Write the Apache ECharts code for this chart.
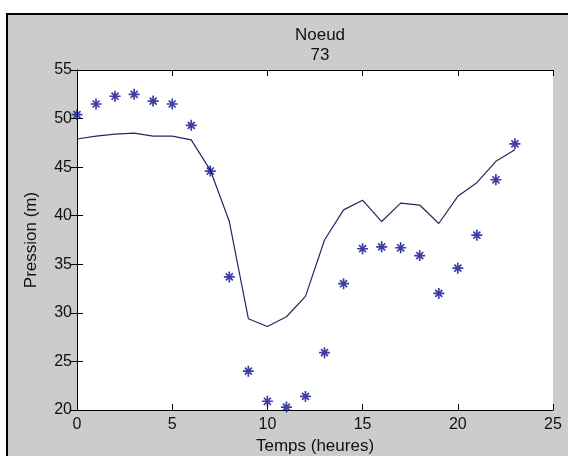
<!DOCTYPE html>
<html>
<head>
<meta charset="utf-8">
<script src="https://cdn.jsdelivr.net/npm/echarts@6/dist/echarts.min.js"></script>
<style>html,body{margin:0;padding:0;background:#fff;}#c{width:568px;height:456px;}</style>
</head>
<body>
<div id="c"></div>
<script>
var hours = [0,1,2,3,4,5,6,7,8,9,10,11,12,13,14,15,16,17,18,19,20,21,22,23];
var simulated = [47.9,48.2,48.4,48.5,48.2,48.2,47.8,44.7,39.4,29.4,28.6,29.6,31.7,37.5,40.6,41.6,39.4,41.3,41.1,39.2,42.0,43.4,45.6,46.8];
var measured = [50.4,51.5,52.3,52.5,51.8,51.5,49.3,44.6,33.7,24.0,20.9,20.3,21.4,25.9,33.0,36.6,36.8,36.7,35.9,32.0,34.6,38.0,43.7,47.4];
var titleLines = ['Noeud', '73'];
var xName = 'Temps (heures)';
var yName = 'Pression (m)';

var FONT = '"Liberation Sans", Arial, sans-serif';
var chart = echarts.init(document.getElementById('c'), null, {renderer: 'canvas'});
function pairs(ys){ return hours.map(function(h,i){ return [h, ys[i]]; }); }
var star = 'path://M5 0L5 10M0 5L10 5M1.8 1.8L8.2 8.2M8.2 1.8L1.8 8.2';
var axisCommon = {
  axisLine: {show: true, lineStyle: {color: '#000', width: 1}},
  axisTick: {show: true, inside: true, length: 6, lineStyle: {color: '#000', width: 1}},
  splitLine: {show: false}
};
chart.setOption({
  backgroundColor: '#fff',
  animation: false,
  graphic: {elements: [{
    type: 'rect', z: -100, silent: true,
    shape: {x: 7, y: 14, width: 700, height: 600},
    style: {fill: '#cccccc', stroke: '#000', lineWidth: 2}
  }]},
  title: {
    text: titleLines.join('\n'),
    left: 315, top: 20, textAlign: 'center',
    textStyle: {fontFamily: FONT, fontSize: 17, fontWeight: 'normal', color: '#111', lineHeight: 20}
  },
  grid: {left: 77, top: 70, width: 476, height: 340, show: true, backgroundColor: '#fff', borderWidth: 0, containLabel: false, outerBoundsMode: 'none'},
  xAxis: [
    Object.assign({type: 'value', min: 0, max: 25, interval: 5, position: 'bottom',
      name: xName, nameLocation: 'middle', nameGap: 27,
      nameTextStyle: {fontFamily: FONT, fontSize: 17, color: '#111'},
      axisLabel: {fontFamily: FONT, fontSize: 16, color: '#111', margin: 7}}, axisCommon),
    Object.assign({type: 'value', min: 0, max: 25, interval: 5, position: 'top',
      axisLabel: {show: false}}, axisCommon)
  ],
  yAxis: [
    Object.assign({type: 'value', min: 20, max: 55, interval: 5, position: 'left',
      name: yName, nameLocation: 'middle', nameGap: 37,
      nameTextStyle: {fontFamily: FONT, fontSize: 17, color: '#111'},
      axisLabel: {fontFamily: FONT, fontSize: 16, color: '#111', margin: 5}}, axisCommon),
    Object.assign({type: 'value', min: 20, max: 55, interval: 5, position: 'right',
      axisLabel: {show: false}}, axisCommon)
  ],
  series: [
    {type: 'line', data: pairs(simulated), showSymbol: false, symbol: 'none',
     lineStyle: {color: '#27275f', width: 1.2}, z: 2},
    {type: 'scatter', data: pairs(measured), symbol: star, symbolSize: 11, clip: false,
     itemStyle: {color: '#0c0c8c', borderColor: '#0c0c8c', borderWidth: 1.7}, z: 3}
  ]
});
</script>
</body>
</html>
